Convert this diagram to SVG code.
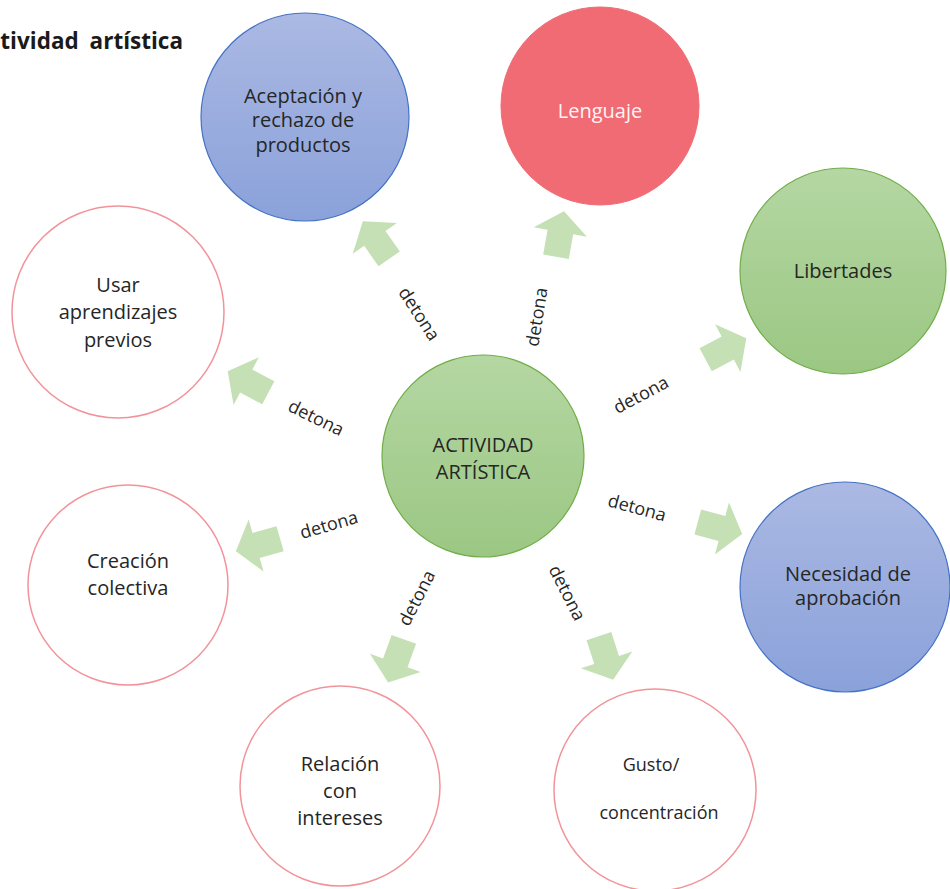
<svg xmlns="http://www.w3.org/2000/svg" xmlns:xlink="http://www.w3.org/1999/xlink" width="950" height="889" viewBox="0 0 950 889">
  <style>
    .lbl { font-family: "Open Sans", "Liberation Sans", sans-serif; font-size: 20px; fill: #262626; text-anchor: middle; }
    .sm { font-size: 18px; }
    .det { font-family: "Open Sans", "Liberation Sans", sans-serif; font-size: 18px; fill: #262626; text-anchor: middle; }
    .title { font-family: "Open Sans", "Liberation Sans", sans-serif; font-size: 22.5px; font-weight: bold; fill: #1a1a1a; text-anchor: end; word-spacing: 5px; }
    .blue { fill: url(#gBlue); stroke: #4472c4; stroke-width: 1.2; }
    .green { fill: url(#gGreen); stroke: #70ad47; stroke-width: 1.2; }
    .red { fill: #f06b74; stroke: #f06b74; stroke-width: 1; }
    .open { fill: #ffffff; stroke: #f2939a; stroke-width: 1.5; }
    .arrow { fill: #c5e0b4; }
  </style>
  <defs>
    <linearGradient id="gBlue" x1="0" y1="0" x2="0" y2="1">
      <stop offset="0" stop-color="#abb9e3"/>
      <stop offset="1" stop-color="#8aa1da"/>
    </linearGradient>
    <linearGradient id="gGreen" x1="0" y1="0" x2="0" y2="1">
      <stop offset="0" stop-color="#b5d7a3"/>
      <stop offset="1" stop-color="#9bc783"/>
    </linearGradient>
    <!-- block arrow pointing up, centred on the origin -->
    <path id="blockArrow" d="M0,-23 L27,-2 L13,-2 L13,23 L-13,23 L-13,-2 L-27,-2 Z"/>
  </defs>

  <rect width="950" height="889" fill="#ffffff"/>

  <!-- heading runs past the left edge of the page -->
  <text class="title" x="183" y="49">Actividad artística</text>

  <!-- connectors: block arrows and their labels -->
  <g id="connectors">
    <use xlink:href="#blockArrow" class="arrow" transform="translate(376,240) rotate(-35)"/>
    <use xlink:href="#blockArrow" class="arrow" transform="translate(560,234) rotate(10)"/>
    <use xlink:href="#blockArrow" class="arrow" transform="translate(726,349) rotate(62)"/>
    <use xlink:href="#blockArrow" class="arrow" transform="translate(720,528) rotate(105)"/>
    <use xlink:href="#blockArrow" class="arrow" transform="translate(606,658) rotate(162)"/>
    <use xlink:href="#blockArrow" class="arrow" transform="translate(396,661) rotate(-160)"/>
    <use xlink:href="#blockArrow" class="arrow" transform="translate(258,545) rotate(-106)"/>
    <use xlink:href="#blockArrow" class="arrow" transform="translate(248,382) rotate(-62)"/>

    <text class="det" transform="translate(419,314) rotate(57)" dy="6">detona</text>
    <text class="det" transform="translate(537,317) rotate(-81)" dy="6">detona</text>
    <text class="det" transform="translate(641,395) rotate(-28)" dy="6">detona</text>
    <text class="det" transform="translate(637,508) rotate(15)" dy="6">detona</text>
    <text class="det" transform="translate(567,593) rotate(63)" dy="6">detona</text>
    <text class="det" transform="translate(417,598) rotate(-63)" dy="6">detona</text>
    <text class="det" transform="translate(329,525) rotate(-16)" dy="6">detona</text>
    <text class="det" transform="translate(316,418) rotate(26)" dy="6">detona</text>
  </g>

  <g id="actividad">
    <circle class="green" cx="483" cy="456" r="101"/>
    <text class="lbl" x="483" y="452">ACTIVIDAD</text>
    <text class="lbl" x="483" y="479">ARTÍSTICA</text>
  </g>

  <g id="aceptacion">
    <circle class="blue" cx="305" cy="117" r="104"/>
    <text class="lbl" x="303" y="103">Aceptación y</text>
    <text class="lbl" x="303" y="127">rechazo de</text>
    <text class="lbl" x="303" y="152">productos</text>
  </g>

  <g id="lenguaje">
    <circle class="red" cx="600" cy="106" r="99"/>
    <text class="lbl" x="600" y="118" style="fill:#fff4f4">Lenguaje</text>
  </g>

  <g id="libertades">
    <circle class="green" cx="843" cy="271" r="103"/>
    <text class="lbl" x="843" y="278">Libertades</text>
  </g>

  <g id="necesidad">
    <circle class="blue" cx="845" cy="587" r="105"/>
    <text class="lbl" x="848" y="581">Necesidad de</text>
    <text class="lbl" x="848" y="605">aprobación</text>
  </g>

  <g id="gusto">
    <circle class="open" cx="655" cy="790" r="101"/>
    <text class="lbl sm" x="651" y="771">Gusto/</text>
    <text class="lbl sm" x="659" y="819">concentración</text>
  </g>

  <g id="relacion">
    <circle class="open" cx="340" cy="786" r="100"/>
    <text class="lbl" x="340" y="771">Relación</text>
    <text class="lbl" x="340" y="798">con</text>
    <text class="lbl" x="340" y="825">intereses</text>
  </g>

  <g id="creacion">
    <circle class="open" cx="128" cy="585" r="100"/>
    <text class="lbl" x="128" y="568">Creación</text>
    <text class="lbl" x="128" y="595">colectiva</text>
  </g>

  <g id="usar">
    <circle class="open" cx="118" cy="312" r="106"/>
    <text class="lbl" x="118" y="292">Usar</text>
    <text class="lbl" x="118" y="319">aprendizajes</text>
    <text class="lbl" x="118" y="347">previos</text>
  </g>
</svg>
